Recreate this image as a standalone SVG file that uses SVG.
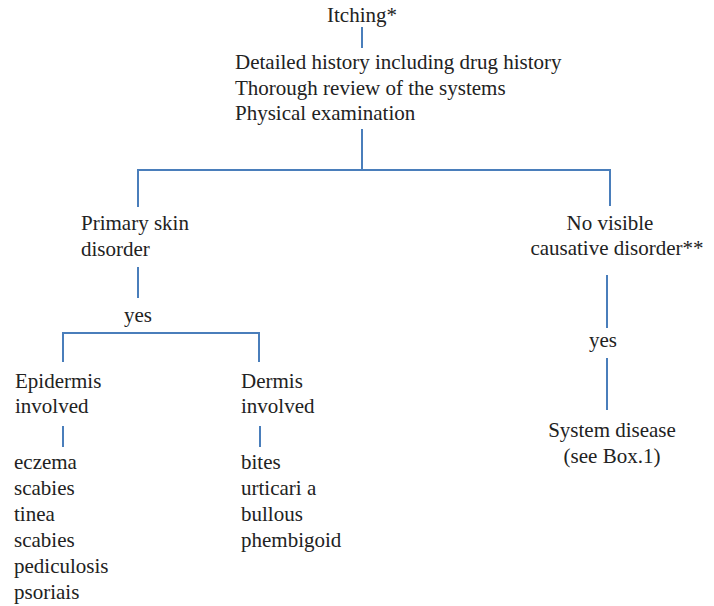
<svg xmlns="http://www.w3.org/2000/svg" width="714" height="606" viewBox="0 0 714 606">
  <style>
    text { font-family: "Liberation Serif", "Times New Roman", serif; font-size: 21px; fill: #222; }
    .mid { text-anchor: middle; }
    .conn { stroke: #4a7ebb; stroke-width: 2; fill: none; }
  </style>
  <rect width="714" height="606" fill="#fff"/>

  <g id="connectors">
    <path class="conn" d="M362 27 V48"/>
    <path class="conn" d="M362 129 V170"/>
    <path class="conn" d="M138 207 V170 H610 V206"/>
    <path class="conn" d="M138 267 V298"/>
    <path class="conn" d="M63 362 V333 H259 V362"/>
    <path class="conn" d="M63 426 V447"/>
    <path class="conn" d="M260 426 V447"/>
    <path class="conn" d="M607 275 V328"/>
    <path class="conn" d="M607 358 V410"/>
  </g>

  <g id="itching">
    <text class="mid" x="362" y="22">Itching*</text>
  </g>

  <g id="workup">
    <text x="235" y="69">Detailed history including drug history</text>
    <text x="235" y="95">Thorough review of the systems</text>
    <text x="235" y="120">Physical examination</text>
  </g>

  <g id="primary-skin">
    <text x="81" y="230">Primary skin</text>
    <text x="81" y="256">disorder</text>
  </g>

  <g id="yes-left">
    <text class="mid" x="138" y="322">yes</text>
  </g>

  <g id="epidermis">
    <text x="15" y="388">Epidermis</text>
    <text x="15" y="413">involved</text>
  </g>

  <g id="dermis">
    <text x="241" y="388">Dermis</text>
    <text x="241" y="413">involved</text>
  </g>

  <g id="epidermis-list">
    <text x="14" y="469">eczema</text>
    <text x="14" y="495">scabies</text>
    <text x="14" y="521">tinea</text>
    <text x="14" y="547">scabies</text>
    <text x="14" y="573">pediculosis</text>
    <text x="14" y="599">psoriais</text>
  </g>

  <g id="dermis-list">
    <text x="241" y="469">bites</text>
    <text x="241" y="495">urticari a</text>
    <text x="241" y="521">bullous</text>
    <text x="241" y="547">phembigoid</text>
  </g>

  <g id="no-visible">
    <text class="mid" x="610" y="230">No visible</text>
    <text class="mid" x="617" y="255">causative disorder**</text>
  </g>

  <g id="yes-right">
    <text class="mid" x="603" y="347">yes</text>
  </g>

  <g id="system-disease">
    <text class="mid" x="612" y="437">System disease</text>
    <text class="mid" x="612" y="463">(see Box.1)</text>
  </g>
</svg>
